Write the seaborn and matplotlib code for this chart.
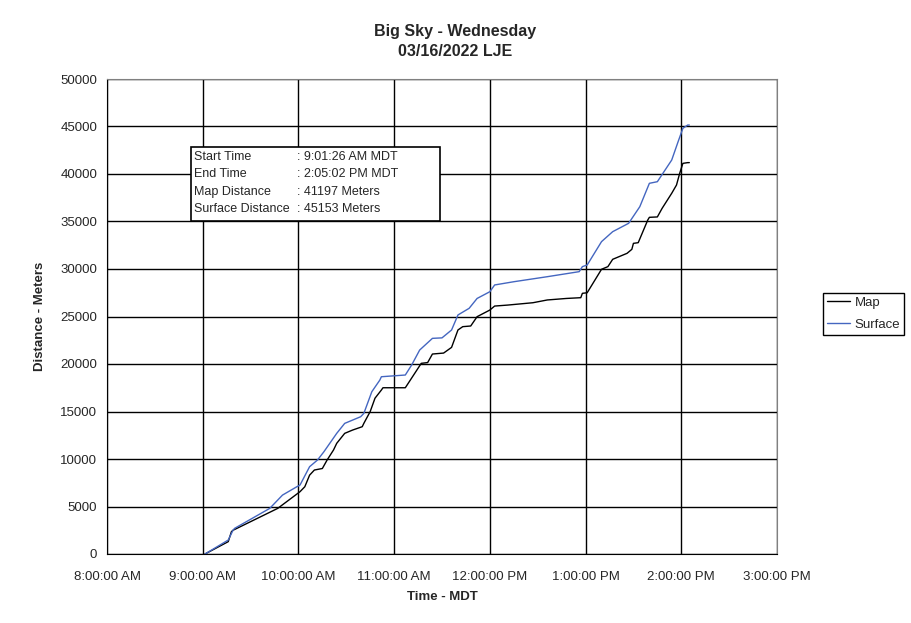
import pandas as pd
import matplotlib
matplotlib.use('Agg')
import matplotlib.pyplot as plt
import matplotlib.dates as mdates
from matplotlib.patches import Rectangle
from matplotlib.lines import Line2D
import seaborn as sns

# Datos (hora, distancia en metros)
map_times = ['09:01:26', '09:16', '09:18', '09:19', '09:47', '10:01', '10:04', '10:07',
             '10:10', '10:15', '10:18', '10:22', '10:24', '10:29', '10:34', '10:40',
             '10:41', '10:45', '10:48', '10:52', '10:53', '11:07', '11:17', '11:21',
             '11:24', '11:31', '11:36', '11:40', '11:43', '11:48', '11:52', '12:00',
             '12:03', '12:11', '12:27', '12:36', '12:48', '12:57', '12:58', '13:01',
             '13:10', '13:14', '13:17', '13:26', '13:29', '13:30', '13:33', '13:39',
             '13:40', '13:45', '13:48', '13:54', '13:57', '13:59', '14:01', '14:04',
             '14:05:02']
map_m = [0, 1300, 2350, 2500, 4800, 6560, 7080, 8300,
         8840, 9000, 9900, 10950, 11650, 12700, 13050, 13400,
         13750, 15000, 16400, 17260, 17500, 17500, 20070, 20150,
         21050, 21150, 21750, 23580, 23930, 24000, 24980, 25680,
         26100, 26200, 26450, 26740, 26900, 26980, 27440, 27500,
         29970, 30250, 31020, 31650, 32070, 32700, 32770, 35160,
         35440, 35480, 36390, 37970, 38840, 40070, 41120, 41197,
         41197]

surf_times = ['09:01:26', '09:16', '09:19', '09:20', '09:42', '09:50', '09:59', '10:01',
              '10:07', '10:12', '10:16', '10:24', '10:29', '10:39', '10:41', '10:46',
              '10:51', '10:52', '11:07', '11:11', '11:16', '11:24', '11:30', '11:36',
              '11:40', '11:47', '11:52', '12:00', '12:03', '12:15', '12:36', '12:56',
              '12:58', '13:01', '13:10', '13:17', '13:27', '13:34', '13:40', '13:45',
              '13:54', '13:58', '14:01', '14:04', '14:05:02']
surf_m = [0, 1470, 2500, 2700, 4800, 6200, 7080, 7260,
          9190, 9900, 10770, 12700, 13750, 14450, 14800, 17080,
          18300, 18660, 18840, 19900, 21470, 22700, 22750, 23580,
          25160, 25860, 26900, 27610, 28320, 28660, 29190, 29720,
          30250, 30420, 32880, 33930, 34810, 36560, 39020, 39190,
          41470, 43400, 44810, 45150, 45153]

info_labels = ['Start Time', 'End Time', 'Map Distance', 'Surface Distance']
info_values = [': 9:01:26 AM MDT', ': 2:05:02 PM MDT', ': 41197 Meters', ': 45153 Meters']

fecha = '2022-03-16 '
df = pd.concat([
    pd.DataFrame({'Hora': pd.to_datetime([fecha + t for t in map_times], format='mixed'),
                  'Distancia': map_m, 'Serie': 'Map'}),
    pd.DataFrame({'Hora': pd.to_datetime([fecha + t for t in surf_times], format='mixed'),
                  'Distancia': surf_m, 'Serie': 'Surface'}),
])

sns.set_style('white')
plt.rcParams['font.family'] = ['Liberation Sans', 'DejaVu Sans']

fig = plt.figure(figsize=(9.11, 6.23), dpi=100)
ax = fig.add_axes([107 / 911, 69 / 623, 670 / 911, 475 / 623])

sns.lineplot(data=df, x='Hora', y='Distancia', hue='Serie', ax=ax,
             palette={'Map': 'black', 'Surface': '#4466C0'}, linewidth=1,
             estimator=None, sort=False, legend=False)

ax.set_xlim(pd.Timestamp(fecha + '08:00'), pd.Timestamp(fecha + '15:00'))
ax.set_ylim(0, 50000)
ax.set_yticks(range(0, 50001, 5000))
ax.xaxis.set_major_locator(mdates.HourLocator())
ax.xaxis.set_major_formatter(mdates.DateFormatter('%-I:%M:%S %p'))
ax.grid(True, color='black', linewidth=1)
ax.set_axisbelow(True)
for s in ['top', 'right']:
    ax.spines[s].set_color('#808080')
for s in ['left', 'bottom']:
    ax.spines[s].set_color('black')
ax.tick_params(axis='both', direction='out', length=4, width=1, color='black',
               labelsize=9.5, pad=3)
ax.tick_params(axis='x', pad=8)
ax.set_xlabel('Time - MDT', fontsize=9.5, fontweight='bold', labelpad=6)
ax.set_ylabel('Distance - Meters', fontsize=9.5, fontweight='bold', labelpad=10)

fig.suptitle('Big Sky - Wednesday\n03/16/2022 LJE', x=0.5, y=0.962,
             fontsize=11.5, fontweight='bold', linespacing=1.45)

# Leyenda
handles = [Line2D([], [], color='black', lw=1), Line2D([], [], color='#4466C0', lw=1)]
fig.legend(handles, ['Map', 'Surface'], loc='upper left',
           bbox_to_anchor=(823 / 911, 1 - 293 / 623), bbox_transform=fig.transFigure,
           fancybox=False, edgecolor='black', framealpha=1, fontsize=9.5,
           handlelength=1.8, handletextpad=0.3, borderpad=0.28, labelspacing=0.75,
           borderaxespad=0)

# Cuadro de información
fig.patches.append(Rectangle((191 / 911, 1 - 221 / 623), 249 / 911, 74 / 623,
                             transform=fig.transFigure, facecolor='white',
                             edgecolor='black', linewidth=1.2, zorder=5))
for i, (lab, val) in enumerate(zip(info_labels, info_values)):
    y = 1 - (157 + i * 17.3) / 623
    fig.text(194 / 911, y, lab, fontsize=9, va='center', zorder=6)
    fig.text(297 / 911, y, val, fontsize=9, va='center', zorder=6)

fig.savefig('out.png', dpi=100)
